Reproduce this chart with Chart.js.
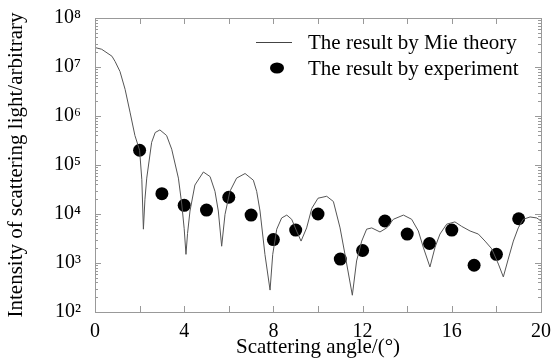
<!DOCTYPE html>
<html>
<head>
<meta charset="utf-8">
<script src="https://cdn.jsdelivr.net/npm/chart.js"></script>
<style>
  html, body { margin: 0; padding: 0; background: #fff; }
  #wrap { width: 554px; height: 360px; }
</style>
</head>
<body>
<div id="wrap"><canvas id="scatter-chart"></canvas></div>
<script>
  // Mie theory curve
  const mieAngle = [0, 0.3, 0.76, 0.9, 1.12, 1.35, 1.57, 1.79, 2.0, 2.1, 2.17, 2.24, 2.32, 2.54, 2.7, 2.91,
    3.21, 3.44, 3.74, 3.89, 4.0, 4.08, 4.15, 4.26, 4.48, 4.86, 5.16, 5.38, 5.53, 5.68, 5.83, 6.05,
    6.35, 6.73, 7.1, 7.25, 7.4, 7.62, 7.85, 7.97, 8.15, 8.37, 8.6, 8.82, 9.04, 9.24, 9.49, 9.72,
    10.0, 10.39, 10.69, 10.99, 11.21, 11.54, 11.73, 11.96, 12.18, 12.41, 12.78, 13.08, 13.38, 13.83,
    14.2, 14.5, 14.72, 15.02, 15.25, 15.47, 15.77, 16.14, 16.44, 16.82, 17.19, 17.49, 17.79, 18.09,
    18.31, 18.53, 18.76, 18.98, 19.2, 19.51, 19.81, 20];
  const mieIntensity = [2.5e7, 2.3e7, 1.66e7, 1.3e7, 8.1e6, 3.5e6, 1.2e6, 4e5, 2e5, 5e4, 4.9e3, 2e4, 5.4e4, 2.9e5, 4.6e5, 5.2e5,
    4e5, 2.1e5, 5.4e4, 1.6e4, 5e3, 1.5e3, 4e3, 1.15e4, 3.9e4, 7.2e4, 5.8e4, 2.9e4, 1.15e4, 2.2e3, 9.8e3, 2.9e4,
    5.4e4, 6.7e4, 4.9e4, 2.9e4, 1.15e4, 1.5e3, 280, 1.5e3, 4.9e3, 8.3e3, 9.5e3, 7.8e3, 4.5e3, 2.8e3, 5.2e3, 1.3e4,
    2.1e4, 2.3e4, 1.8e4, 5.2e3, 1.5e3, 220, 1.1e3, 2.8e3, 4.9e3, 5.2e3, 4.3e3, 5.2e3, 7.8e3, 9.5e3,
    7.8e3, 4.5e3, 2.1e3, 830, 2.1e3, 3.9e3, 6.2e3, 6.9e3, 5.6e3, 4.5e3, 3.9e3, 2.8e3, 1.95e3, 950,
    520, 1.2e3, 2.8e3, 5.2e3, 7.8e3, 8.7e3, 8.3e3, 7.2e3];

  // experiment points
  const expAngle = [2, 3, 4, 5, 6, 7, 8, 9, 10, 11, 12, 13, 14, 15, 16, 17, 18, 19];
  const expIntensity = [2e5, 2.6e4, 1.5e4, 1.2e4, 2.2e4, 9.5e3, 3e3, 4.7e3, 1e4, 1.2e3, 1.8e3, 7.2e3, 3.9e3, 2.5e3, 4.7e3, 900, 1.5e3, 8e3];

  const xTicks = [0, 4, 8, 12, 16, 20];
  const yDecades = [2, 3, 4, 5, 6, 7, 8];
  const legendLabels = ["The result by Mie theory", "The result by experiment"];

  const sup = { "0": "⁰", "1": "¹", "2": "²", "3": "³", "4": "⁴", "5": "⁵", "6": "⁶", "7": "⁷", "8": "⁸", "9": "⁹" };
  const font = "Liberation Serif";
  const frameColor = "#999";

  // frame, inward ticks and legend
  const framePlugin = {
    id: "frame",
    afterDraw(chart) {
      const ctx = chart.ctx;
      const a = chart.chartArea;
      const xs = chart.scales.x, ys = chart.scales.y;
      ctx.save();
      ctx.strokeStyle = frameColor;
      ctx.lineWidth = 1;
      ctx.strokeRect(Math.round(a.left) + 0.5, Math.round(a.top) + 0.5, Math.round(a.right - a.left), Math.round(a.bottom - a.top));
      ctx.beginPath();
      for (let v = 0; v <= 20; v += 2) {
        const px = Math.round(xs.getPixelForValue(v)) + 0.5;
        ctx.moveTo(px, a.bottom); ctx.lineTo(px, a.bottom - 6);
        ctx.moveTo(px, a.top); ctx.lineTo(px, a.top + 6);
      }
      yDecades.forEach(d => {
        for (let m = 1; m <= 9; m++) {
          if (d === 8 && m > 1) break;
          const py = Math.round(ys.getPixelForValue(m * Math.pow(10, d))) + 0.5;
          const len = m === 1 ? 6 : 3;
          ctx.moveTo(a.left, py); ctx.lineTo(a.left + len, py);
          ctx.moveTo(a.right, py); ctx.lineTo(a.right - len, py);
        }
      });
      ctx.stroke();

      // legend
      ctx.fillStyle = "#000";
      ctx.font = "21px '" + font + "'";
      ctx.textBaseline = "middle";
      ctx.strokeStyle = "#444";
      ctx.beginPath();
      ctx.moveTo(256, 42.5); ctx.lineTo(292, 42.5);
      ctx.stroke();
      ctx.fillText(legendLabels[0], 308, 43);
      ctx.beginPath();
      ctx.ellipse(277, 68, 7, 5.6, 0, 0, Math.PI * 2);
      ctx.fill();
      ctx.fillText(legendLabels[1], 308, 69);
      ctx.restore();
    }
  };

  new Chart(document.getElementById("scatter-chart"), {
    type: "scatter",
    data: {
      datasets: [
        {
          label: legendLabels[0],
          data: mieAngle.map((x, i) => ({ x: x, y: mieIntensity[i] })),
          showLine: true,
          borderColor: "#555",
          borderWidth: 1,
          pointRadius: 0,
          tension: 0,
        },
        {
          label: legendLabels[1],
          data: expAngle.map((x, i) => ({ x: x, y: expIntensity[i] })),
          pointStyle: "circle",
          backgroundColor: "#000",
          borderColor: "#000",
          borderWidth: 0,
          pointRadius: 6.5,
          pointHoverRadius: 6.5,
        },
      ],
    },
    options: {
      responsive: true,
      maintainAspectRatio: false,
      animation: false,
      layout: { padding: { left: 0, top: 14, right: 13, bottom: 0 } },
      plugins: { legend: { display: false }, tooltip: { enabled: false } },
      scales: {
        x: {
          type: "linear",
          min: 0,
          max: 20,
          afterBuildTicks: s => { s.ticks = xTicks.map(v => ({ value: v })); },
          ticks: { color: "#000", font: { family: font, size: 20 }, padding: 0, maxRotation: 0 },
          grid: { display: false },
          border: { display: false },
          title: { display: true, text: "Scattering angle/(°)", color: "#000", font: { family: font, size: 21 }, padding: { top: -6, bottom: 0 } },
          afterFit: s => { s.height = 48; },
        },
        y: {
          type: "logarithmic",
          min: 100,
          max: 1e8,
          afterBuildTicks: s => { s.ticks = yDecades.map(d => ({ value: Math.pow(10, d) })); },
          ticks: {
            color: "#000",
            font: { family: font, size: 20 },
            padding: 6,
            autoSkip: false,
            callback: v => "10" + String(Math.round(Math.log10(v))).split("").map(c => sup[c]).join(""),
          },
          grid: { display: false },
          border: { display: false },
          title: { display: true, text: "Intensity of scattering light/arbitrary", color: "#000", font: { family: font, size: 21 }, padding: { top: 4, bottom: 4 } },
          afterFit: s => { s.width = 95; },
        },
      },
    },
    plugins: [framePlugin],
  });
</script>
</body>
</html>
